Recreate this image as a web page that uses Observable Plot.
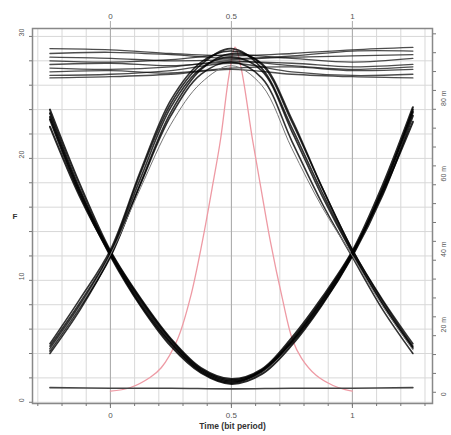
<!DOCTYPE html>
<html><head><meta charset="utf-8">
<script src="https://cdn.jsdelivr.net/npm/d3@7"></script>
<script src="https://cdn.jsdelivr.net/npm/@observablehq/plot@0.6"></script>
<style>body{margin:0;background:#fff}</style>
</head><body><div id="chart"></div>
<script>
// ---- data ----
const times = [-0.25, -0.125, 0, 0.125, 0.25, 0.375, 0.5, 0.625, 0.75, 0.875, 1, 1.125, 1.25];
const archTraces = [
  [4.4, 8.0, 12.2, 18.4, 24.2, 27.4, 28.3, 27.2, 22.2, 16.9, 12.2, 8.0, 4.4],
  [4.8, 8.5, 12.5, 19.0, 24.8, 27.9, 28.8, 27.7, 23.0, 17.6, 12.5, 8.4, 4.8],
  [4.0, 7.6, 12.0, 17.9, 23.5, 26.9, 27.9, 26.6, 21.4, 16.3, 11.9, 7.6, 4.0],
  [4.2, 7.8, 11.9, 18.0, 23.8, 27.3, 28.6, 27.8, 23.2, 17.6, 12.5, 8.3, 4.6],
  [4.6, 8.2, 12.3, 18.8, 24.5, 27.7, 29.0, 27.4, 22.5, 17.2, 12.3, 8.1, 4.5]
];
const archThin = [
  [4.3, 7.9, 12.1, 17.6, 22.8, 26.2, 27.6, 26.0, 20.8, 16.0, 12.0, 7.9, 4.3]
];
const valleyTraces = [
  [23.7, 17.4, 12.2, 8.2, 4.9, 2.6, 1.7, 2.5, 5.0, 8.3, 12.2, 17.4, 24.0],
  [23.2, 17.0, 12.0, 7.9, 4.6, 2.4, 1.5, 2.3, 4.7, 8.0, 12.0, 17.0, 23.5],
  [24.0, 17.8, 12.4, 8.5, 5.2, 2.8, 1.9, 2.7, 5.3, 8.6, 12.4, 17.8, 24.2],
  [22.6, 16.8, 12.1, 8.0, 4.8, 2.5, 1.6, 2.6, 5.1, 8.4, 12.3, 17.2, 23.0],
  [23.4, 17.2, 12.3, 8.4, 5.1, 2.7, 1.8, 2.6, 4.9, 8.1, 12.1, 17.5, 23.8]
];
const railTimes = [-0.25, 0, 0.25, 0.5, 0.75, 1, 1.25];
const railTraces = [
  [29.0, 28.9, 28.6, 28.4, 28.6, 28.9, 29.1],
  [28.6, 28.7, 28.5, 28.2, 28.4, 28.8, 28.8],
  [28.3, 28.2, 28.0, 28.1, 28.3, 28.4, 28.5],
  [28.0, 27.9, 28.1, 28.5, 28.2, 27.9, 28.2],
  [27.7, 27.8, 27.6, 27.9, 27.8, 27.5, 27.7],
  [27.4, 27.3, 27.5, 28.0, 27.6, 27.3, 27.5],
  [27.1, 27.2, 27.0, 27.4, 27.5, 27.2, 27.3],
  [26.8, 26.9, 27.2, 27.8, 27.1, 26.8, 26.9],
  [26.6, 26.7, 26.9, 27.3, 26.9, 26.7, 26.6]
];
const floorTraces = [
  [1.2, 1.15, 1.15, 1.1, 1.15, 1.15, 1.2]
];
// red pulse, right axis (m units)
const redTimes  = [0.0, 0.08, 0.165, 0.21, 0.277, 0.33, 0.38, 0.42, 0.455, 0.49, 0.515, 0.54, 0.587, 0.625, 0.661, 0.71, 0.752, 0.79, 0.85, 0.92, 0.97, 1.0];
const redValues = [0.3, 1.2, 4.0, 6.5, 14, 25, 40, 54, 67, 84, 91.5, 86, 67, 53, 40, 25, 14, 9, 4.5, 1.8, 0.7, 0.3];

// axes ticks / labels
const xMajor = [0, 0.5, 1];
const xLabels = ["0", "0.5", "1"];
const xMinor = d3.range(-3, 14).map(i => i / 10);
const yMajor = [0, 10, 20, 30];
const yMinor = d3.range(0, 31, 2);
const rMajor = [0, 20, 40, 60, 80];
const rLabels = ["0", "20 m", "40 m", "60 m", "80 m"];
const rMinor = d3.range(0, 100, 5);

// secondary axis mapping (right axis value -> left axis units)
const rZero = 0.82, rScale = 0.3094;
const toLeft = v => rZero + rScale * v;

// ---- build tables ----
function expand(traces, ts, kind) {
  const out = [];
  traces.forEach((tr, k) => tr.forEach((v, i) => out.push({t: ts[i], v, id: kind + k})));
  return out;
}
const arch = expand(archTraces, times, "a");
const thin = expand(archThin, times, "h");
const valley = expand(valleyTraces, times, "v");
const rails = expand(railTraces, railTimes, "r");
const floor = expand(floorTraces, railTimes, "f");
const red = redTimes.map((t, i) => ({t, v: toLeft(redValues[i])}));

const xFmt = new Map(xMajor.map((d, i) => [d, xLabels[i]]));

const chart = Plot.plot({
  width: 451, height: 435,
  marginTop: 28, marginBottom: 32, marginLeft: 32, marginRight: 19,
  x: {domain: [-0.322, 1.331], label: null},
  y: {domain: [-0.1, 30.65], label: null},
  style: {fontFamily: "'Liberation Sans', Arial, sans-serif", fontSize: "7px", color: "#555", background: "#fff"},
  marks: [
    Plot.gridX(xMinor, {stroke: "#d8d8d8", strokeOpacity: 1}),
    Plot.gridY(yMinor, {stroke: "#d8d8d8", strokeOpacity: 1}),
    Plot.gridX(xMajor, {stroke: "#aaa", strokeOpacity: 1}),
    Plot.frame({stroke: "#888", strokeWidth: 1.5}),
    Plot.line(red, {x: "t", y: "v", stroke: "#ee9aa4", strokeWidth: 1.3, curve: "catmull-rom"}),
    Plot.line(floor, {x: "t", y: "v", z: "id", stroke: "#444", strokeWidth: 1.6, curve: "catmull-rom"}),
    Plot.line(rails, {x: "t", y: "v", z: "id", stroke: "#111", strokeOpacity: 0.75, strokeWidth: 1.3, curve: "catmull-rom"}),
    Plot.line(valley, {x: "t", y: "v", z: "id", stroke: "#000", strokeOpacity: 0.85, strokeWidth: 2, curve: "catmull-rom"}),
    Plot.line(arch, {x: "t", y: "v", z: "id", stroke: "#000", strokeOpacity: 0.8, strokeWidth: 1.6, curve: "catmull-rom"}),
    Plot.line(thin, {x: "t", y: "v", z: "id", stroke: "#777", strokeWidth: 1, curve: "catmull-rom"}),
    // bottom axis
    Plot.axisX(xMinor, {anchor: "bottom", tickSize: 3, tickFormat: () => "", stroke: "#777"}),
    Plot.axisX(xMajor, {anchor: "bottom", tickSize: 5, tickPadding: 4, fontSize: 8, tickFormat: d => xFmt.get(d), stroke: "#777", fill: "#555"}),
    // top axis
    Plot.axisX(xMajor, {anchor: "top", tickSize: 8, tickPadding: 2, fontSize: 8, tickFormat: d => xFmt.get(d), stroke: "#aaa", fill: "#555"}),
    // left axis
    Plot.axisY(yMinor, {anchor: "left", tickSize: 3, tickFormat: () => "", stroke: "#777"}),
    Plot.text(yMajor, {y: d => d, text: d => String(d), frameAnchor: "left", dx: -11, rotate: -90, fontSize: 7, fill: "#555"}),
    // right axis
    Plot.axisY(rMinor.map(toLeft), {anchor: "right", tickSize: 3, tickFormat: () => "", stroke: "#777"}),
    Plot.text(rMajor, {y: d => toLeft(d), text: (d, i) => rLabels[i], frameAnchor: "right", dx: 11, rotate: -90, fontSize: 7, fill: "#555"}),
    // axis titles
    Plot.text(["Time (bit period)"], {text: d => d, frameAnchor: "bottom", dy: 25, fontSize: 8.5, fontWeight: "bold", fill: "#333"}),
    Plot.text(["F"], {text: d => d, frameAnchor: "left", dx: -20, fontSize: 8, fontWeight: "bold", fill: "#333"})
  ]
});
document.getElementById("chart").appendChild(chart);
</script>
</body></html>
